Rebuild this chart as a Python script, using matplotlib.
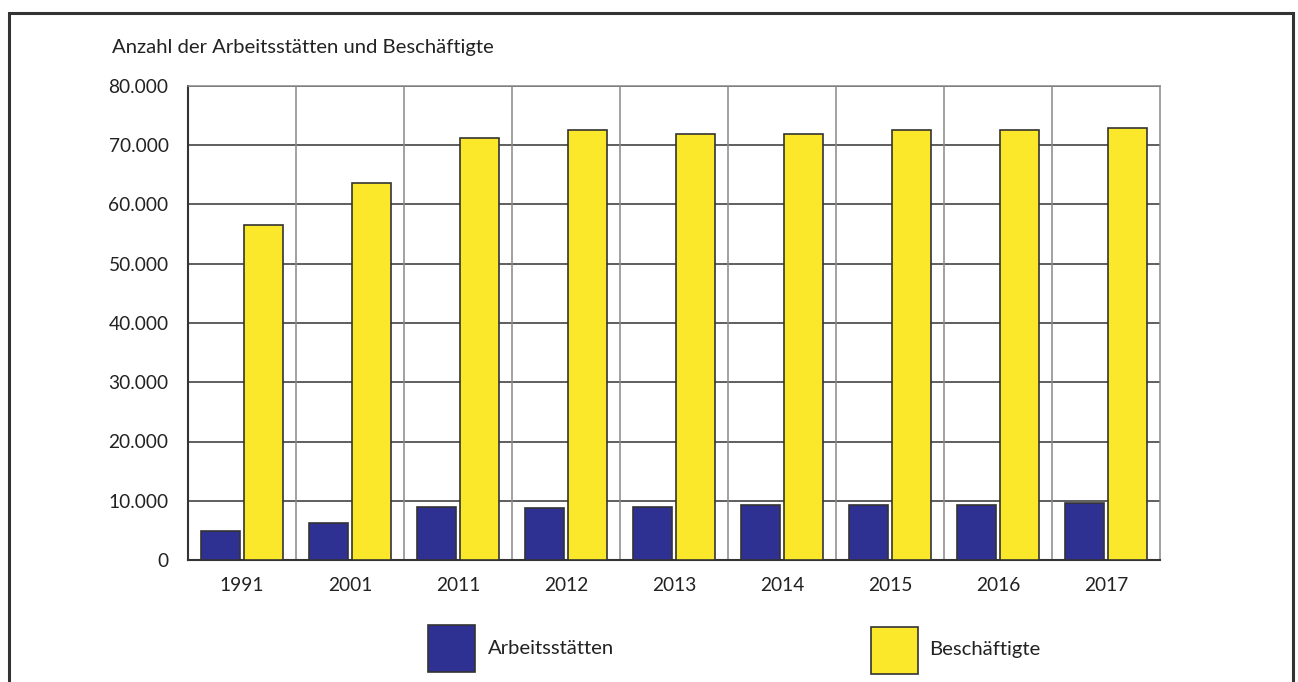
import matplotlib
matplotlib.use("Agg")
import matplotlib.pyplot as plt
from matplotlib.patches import Rectangle
from matplotlib.ticker import FuncFormatter, MultipleLocator
import numpy as np

plt.rcParams['font.family'] = ['Lato', 'DejaVu Sans']

years = ["1991", "2001", "2011", "2012", "2013", "2014", "2015", "2016", "2017"]
arbeitsstaetten = [4900, 6200, 8900, 8700, 8900, 9300, 9300, 9300, 9700]
beschaeftigte = [56500, 63600, 71200, 72600, 71900, 71900, 72500, 72500, 72900]
series_names = ["Arbeitsstätten", "Beschäftigte"]
y_title = "Anzahl der Arbeitsstätten und Beschäftigte"

BLUE = "#2E3192"
YELLOW = "#FCE82A"
EDGE = "#333333"

W, H = 1298, 682
fig = plt.figure(figsize=(W / 100, H / 100), dpi=100)
ax = fig.add_axes([188 / W, (H - 560) / H, 972 / W, 474 / H])

x = np.arange(len(years))
bw = 0.36
ax.bar(x - 0.2, arbeitsstaetten, width=bw, color=BLUE, edgecolor=EDGE, linewidth=1.2, zorder=3)
ax.bar(x + 0.2, beschaeftigte, width=bw, color=YELLOW, edgecolor=EDGE, linewidth=1.2, zorder=3)

ax.set_xlim(-0.5, len(years) - 0.5)
ax.set_ylim(0, 80000)
ax.yaxis.set_major_locator(MultipleLocator(10000))
ax.yaxis.set_major_formatter(FuncFormatter(lambda v, p: f"{int(v):,}".replace(",", ".")))
ax.set_xticks(x)
ax.set_xticklabels(years)
ax.tick_params(axis='both', length=0, labelsize=13.8, colors="#222222")
ax.tick_params(axis='y', pad=14)
ax.tick_params(axis='x', pad=12)

for v in range(10000, 80001, 10000):
    ax.axhline(v, color="#333333", lw=1.1, zorder=1)
for b in np.arange(0.5, len(years) - 1, 1.0):
    ax.axvline(b, color="#888888", lw=1.1, zorder=1)

for s in ["top", "right"]:
    ax.spines[s].set_color("#888888")
    ax.spines[s].set_linewidth(1.1)
for s in ["left", "bottom"]:
    ax.spines[s].set_color("#333333")
    ax.spines[s].set_linewidth(1.5)

fig.text(112 / W, 1 - 47 / H, y_title, fontsize=14.6, color="#222222", va="center", ha="left")

# legend
for (x0, y0, col, name, tx) in [(428, 625, BLUE, series_names[0], 488),
                                  (871, 627, YELLOW, series_names[1], 929)]:
    fig.add_artist(Rectangle((x0 / W, 1 - (y0 + 47) / H), 47 / W, 47 / H,
                             transform=fig.transFigure, facecolor=col,
                             edgecolor=EDGE, linewidth=1.2))
    fig.text(tx / W, 1 - 649 / H, name, fontsize=14.6, color="#222222", va="center", ha="left")

# outer frame
fig.add_artist(Rectangle((9 / W, -0.02), (1293 - 9) / W, 1.02 - 13 / H,
                         transform=fig.transFigure, fill=False,
                         edgecolor="#333333", linewidth=2.2))

fig.savefig("out.png", dpi=100)
